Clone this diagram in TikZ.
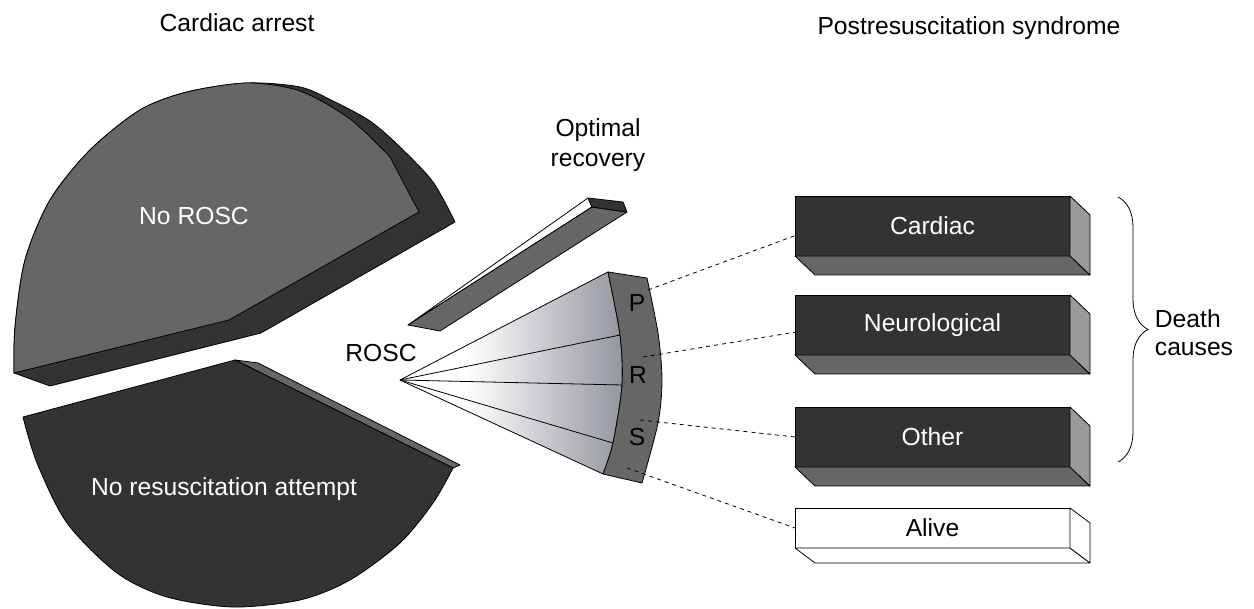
\documentclass[tikz,border=0pt]{standalone}
\usepackage{fontspec}
\setmainfont{Liberation Sans}
\usetikzlibrary{decorations.pathreplacing}

\definecolor{dkgrey}{HTML}{333333}
\definecolor{mdgrey}{HTML}{666666}
\definecolor{ltgrey}{HTML}{9A9A9A}
\definecolor{fangrey}{RGB}{148,150,158}

% white on the left part of the fan, greying towards the rim
\pgfdeclarehorizontalshading{fanshade}{100bp}{color(0bp)=(white); color(25bp)=(white); color(40bp)=(white); color(75bp)=(fangrey); color(100bp)=(fangrey)}

\tikzset{
  face/.style={draw=black, line width=0.6pt, line join=round},
  lbl/.style={font=\fontsize{18.5}{22}\selectfont, inner sep=0pt},
  causebox/.style={draw=black, line width=0.6pt, fill=dkgrey, text=white, outer sep=0pt,
    minimum width=206.25pt, minimum height=45pt, inner sep=0pt, font=\fontsize{18.5}{22}\selectfont},
  alivebox/.style={causebox, fill=white, text=black, minimum height=30pt},
  link/.style={line width=0.6pt, dash pattern=on 3pt off 3pt}
}

\begin{document}
\begin{tikzpicture}[x=0.75pt,y=0.75pt,yscale=-1]
\useasboundingbox (0,0) rectangle (1254,609);

%titles
\node[lbl] (arrest) at (237,23) {Cardiac arrest};
\node[lbl] (prs) at (969,28) {Postresuscitation syndrome};

%upper slice: side, then top face
\draw[face, fill=dkgrey] (14,373) -- plot[smooth] coordinates {(14,373) (15,327) (25,260) (50,200) (90,150) (140,110) (187,92) (247,83) (300,87) (333,101) (370,121) (400,147) (433,182) (455,222)} -- (261,333) -- (50,386) -- cycle;
\draw[face, fill=mdgrey] (14,373) -- plot[smooth] coordinates {(14,373) (15,327) (25,260) (50,200) (90,150) (140,110) (187,92) (247,83) (300,91) (350,119) (390,157)} -- (419,212) -- (229,320) -- cycle;
\node[lbl, text=white] (norosc) at (194,216) {No ROSC};

%lower slice
\draw[face, fill=mdgrey] (235,360) -- (258,363) -- (460,465) -- (453,468) -- cycle;
\draw[face, fill=dkgrey] (23,417) -- (235,360) -- (453,468) -- plot[smooth] coordinates {(453,468) (433,503) (400,543) (350,580) (300,600) (233,607) (167,597) (117,573) (67,523) (37,463) (23,417)} -- cycle;
\node[lbl, text=white] (noresus) at (224,489) {No resuscitation attempt};

%optimal recovery bar
\draw[face, fill=white] (588,198) -- (592,207) -- (408,325) -- cycle;
\draw[face, fill=mdgrey] (592,207) -- (627,212) -- (440,331) -- (408,325) -- cycle;
\draw[face, fill=dkgrey] (588,198) -- (623,202) -- (627,212) -- (592,207) -- cycle;
\node[lbl, align=center, font=\fontsize{18.5}{22.5}\selectfont] (optimal) at (598,145) {Optimal\\recovery};

%ROSC fan
\coordinate (apex) at (400,380);
\shade[shading=fanshade] (apex) -- (608,272) -- plot[smooth] coordinates {(608,272) (620,335) (622,385) (613,443) (603,474)} -- cycle;
\draw[face] (apex) -- (608,272) -- plot[smooth] coordinates {(608,272) (620,335) (622,385) (613,443) (603,474)} -- cycle;
\foreach \p in {(620,335),(622,385),(613,443)}
  \draw[face] (apex) -- \p;
\draw[face, fill=mdgrey] (608,272) -- (647,278) -- plot[smooth] coordinates {(647,278) (658,333) (662,380) (658,423) (642,483)} -- (603,474) -- plot[smooth] coordinates {(603,474) (613,443) (622,385) (620,335) (608,272)} -- cycle;
\node[lbl] (rosc) at (381,353) {ROSC};
\node[lbl] (p) at (637,303) {P};
\node[lbl] (r) at (638,375) {R};
\node[lbl] (s) at (637,437) {S};
\coordinate (pout) at (648,290);
\coordinate (rout) at (643,357);
\coordinate (sout) at (640,420);
\coordinate (aout) at (627,468);

%outcome boxes
\node[causebox] (cardiac) at (932.5,226) {Cardiac};
\node[causebox] (neuro) at (932.5,325) {Neurological};
\node[causebox] (other) at (932.5,437) {Other};
\node[alivebox] (alive) at (932.5,528) {Alive};
\foreach \b in {cardiac,neuro,other}{
  \draw[face, fill=mdgrey] (\b.south west) -- ++(20,19) -- ++(275,0) -- (\b.south east) -- cycle;
  \draw[face, fill=ltgrey] (\b.north east) -- ++(20,19) -- ++(0,60) -- (\b.south east) -- cycle;
}
\draw[face, fill=white] (alive.south west) -- ++(20,15) -- ++(275,0) -- (alive.south east) -- cycle;
\draw[face, fill=white] (alive.north east) -- ++(20,15) -- ++(0,40) -- (alive.south east) -- cycle;

%links
\draw[link] (pout) -- (cardiac.184);
\draw[link] (rout) -- (neuro.183);
\draw[link] (sout) -- (other.west);
\draw[link] (aout) -- (alive.west);

%death causes
\coordinate (bracetop) at (1118,197);
\coordinate (bracebot) at (1118,462);
\draw[line width=0.6pt, decorate, decoration={brace, amplitude=22.5pt}] (bracetop) -- (bracebot);
\node[lbl, align=left, font=\fontsize{18.5}{21}\selectfont] (death) at (1194,333) {Death\\causes};
\end{tikzpicture}
\end{document}
